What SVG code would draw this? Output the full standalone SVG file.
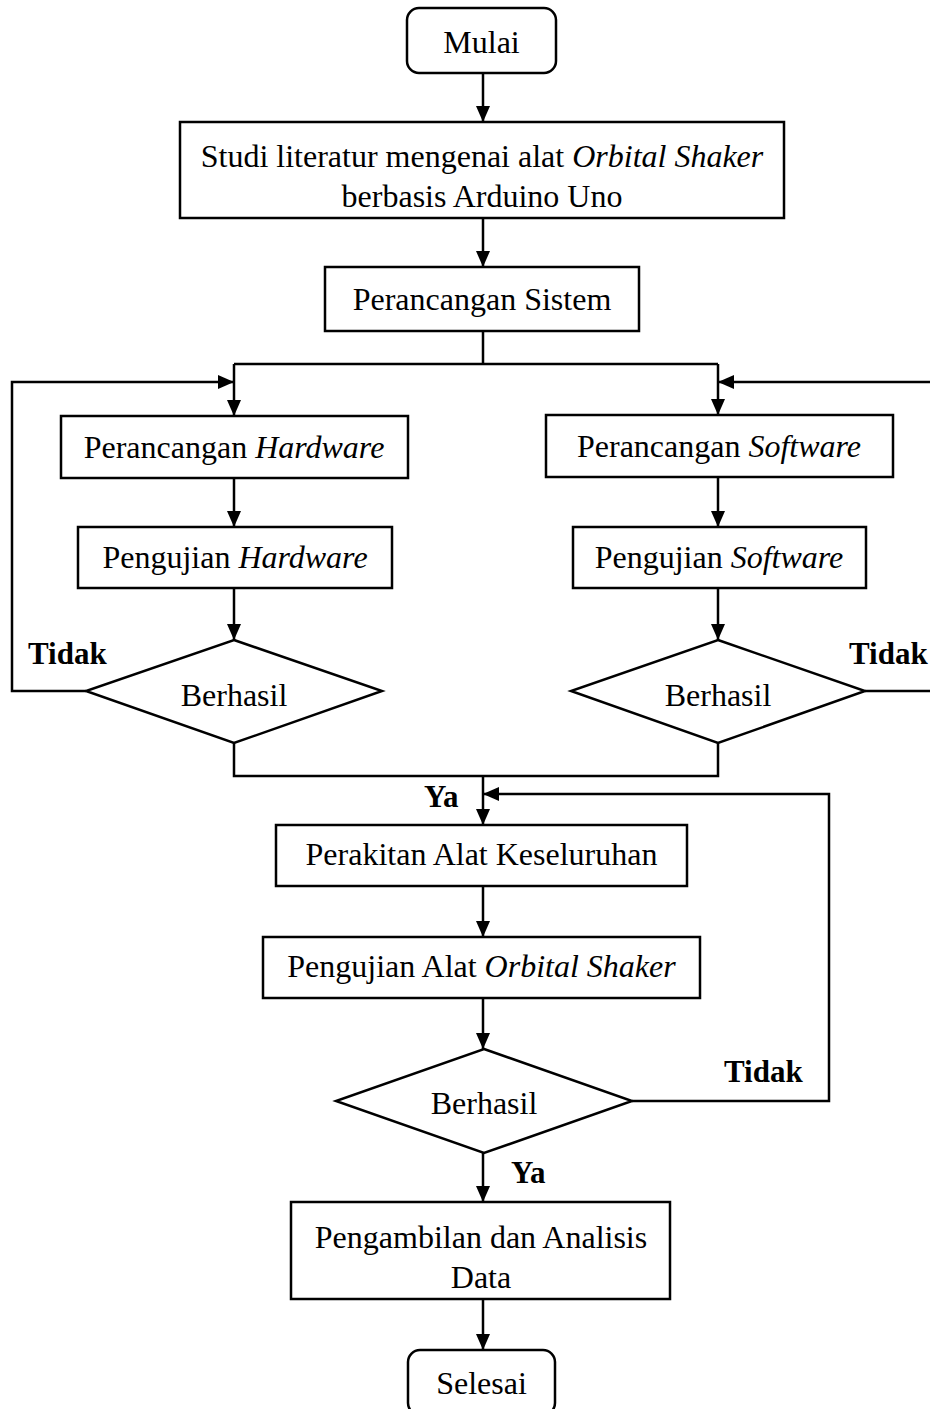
<svg xmlns="http://www.w3.org/2000/svg" width="930" height="1409" viewBox="0 0 930 1409">
<style>
.shape{fill:#fff;stroke:#000;stroke-width:2.5}
.line{fill:none;stroke:#000;stroke-width:2.5}
.arr{fill:none;stroke:#000;stroke-width:2.5;marker-end:url(#ah)}
text{font-family:"Liberation Serif","Times New Roman",serif;font-size:32px;fill:#000}
.c{text-anchor:middle}
.b{font-weight:bold}
.t{font-size:31px}
.i{font-style:italic}
</style>
<defs>
<marker id="ah" viewBox="0 0 16 14" refX="16" refY="7" markerWidth="16" markerHeight="14" markerUnits="userSpaceOnUse" orient="auto">
<path d="M0,0 L16,7 L0,14 Z" fill="#000"/>
</marker>
</defs>
<rect width="930" height="1409" fill="#fff"/>
<g id="connectors">
<line class="arr" x1="483" y1="73" x2="483" y2="122"/>
<line class="arr" x1="483" y1="218" x2="483" y2="267"/>
<path class="line" d="M483,331 V364 M234,364 H718"/>
<line class="arr" x1="234" y1="364" x2="234" y2="416"/>
<line class="arr" x1="718" y1="364" x2="718" y2="415"/>
<path class="arr" d="M86,691 H12 V382 H234"/>
<path class="line" d="M865,691 H930"/>
<path class="arr" d="M930,382 H718"/>
<line class="arr" x1="234" y1="478" x2="234" y2="527"/>
<line class="arr" x1="718" y1="477" x2="718" y2="527"/>
<line class="arr" x1="234" y1="588" x2="234" y2="640"/>
<line class="arr" x1="718" y1="588" x2="718" y2="640"/>
<path class="line" d="M234,743 V776 H718 V743"/>
<line class="arr" x1="483" y1="776" x2="483" y2="825"/>
<path class="arr" d="M632,1101 H829 V794 H483"/>
<line class="arr" x1="483" y1="886" x2="483" y2="937"/>
<line class="arr" x1="483" y1="998" x2="483" y2="1049"/>
<line class="arr" x1="483" y1="1153" x2="483" y2="1202"/>
<line class="arr" x1="483" y1="1299" x2="483" y2="1350"/>
<text class="b t" x="28" y="664">Tidak</text>
<text class="b t" x="849" y="664">Tidak</text>
<text class="b t" x="424" y="807">Ya</text>
<text class="b t" x="724" y="1082">Tidak</text>
<text class="b t" x="511" y="1183">Ya</text>
</g>
<g id="mulai">
<rect class="shape" x="407" y="8" width="149" height="65" rx="12"/>
<text class="c" x="481.5" y="53">Mulai</text>
</g>
<g id="studi">
<rect class="shape" x="180" y="122" width="604" height="96"/>
<text class="c" x="482" y="167">Studi literatur mengenai alat <tspan class="i">Orbital Shaker</tspan></text>
<text class="c" x="482" y="207">berbasis Arduino Uno</text>
</g>
<g id="perancangan-sistem">
<rect class="shape" x="325" y="267" width="314" height="64"/>
<text class="c" x="482" y="310">Perancangan Sistem</text>
</g>
<g id="perancangan-hardware">
<rect class="shape" x="61" y="416" width="347" height="62"/>
<text class="c" x="234" y="458">Perancangan <tspan class="i">Hardware</tspan></text>
</g>
<g id="perancangan-software">
<rect class="shape" x="546" y="415" width="347" height="62"/>
<text class="c" x="719" y="457">Perancangan <tspan class="i">Software</tspan></text>
</g>
<g id="pengujian-hardware">
<rect class="shape" x="78" y="527" width="314" height="61"/>
<text class="c" x="235" y="568">Pengujian <tspan class="i">Hardware</tspan></text>
</g>
<g id="pengujian-software">
<rect class="shape" x="573" y="527" width="293" height="61"/>
<text class="c" x="719" y="568">Pengujian <tspan class="i">Software</tspan></text>
</g>
<g id="berhasil-hardware">
<polygon class="shape" points="234,640 382,691 234,743 86,691"/>
<text class="c" x="234" y="706">Berhasil</text>
</g>
<g id="berhasil-software">
<polygon class="shape" points="718,640 865,691 718,743 571,691"/>
<text class="c" x="718" y="706">Berhasil</text>
</g>
<g id="perakitan">
<rect class="shape" x="276" y="825" width="411" height="61"/>
<text class="c" x="481.5" y="865">Perakitan Alat Keseluruhan</text>
</g>
<g id="pengujian-alat">
<rect class="shape" x="263" y="937" width="437" height="61"/>
<text class="c" x="481.5" y="977">Pengujian Alat <tspan class="i">Orbital Shaker</tspan></text>
</g>
<g id="berhasil-alat">
<polygon class="shape" points="484,1049 632,1101 484,1153 336,1101"/>
<text class="c" x="484" y="1114">Berhasil</text>
</g>
<g id="pengambilan">
<rect class="shape" x="291" y="1202" width="379" height="97"/>
<text class="c" x="481" y="1248">Pengambilan dan Analisis</text>
<text class="c" x="481" y="1288">Data</text>
</g>
<g id="selesai">
<rect class="shape" x="408" y="1350" width="147" height="65" rx="12"/>
<text class="c" x="481.5" y="1394">Selesai</text>
</g>
</svg>
